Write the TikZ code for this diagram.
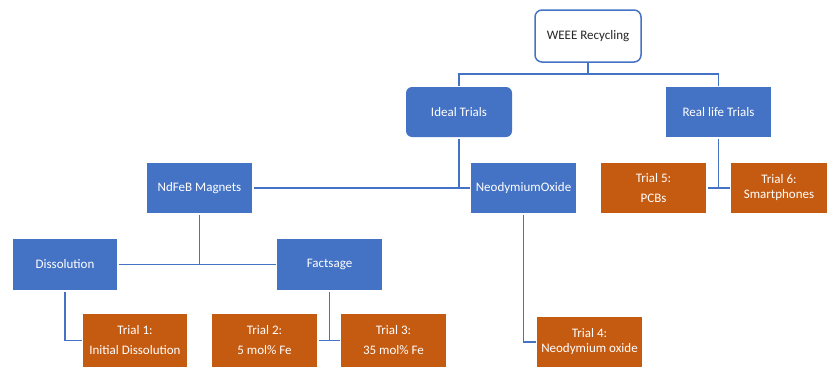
\documentclass[tikz,border=0pt]{standalone}
\usepackage{fontspec}
\setmainfont{Carlito}
\definecolor{oblue}{HTML}{4472C4}
\definecolor{oorange}{HTML}{C55A11}
\definecolor{dtext}{HTML}{262626}
\tikzset{
  box/.style={draw=none, text=white, align=center, inner sep=0pt, outer sep=1.5pt, font=\fontsize{13}{20}\selectfont},
  bluebox/.style={box, fill=oblue},
  orbox/.style={box, fill=oorange},
  tight/.style={font=\fontsize{13}{15}\selectfont},
  conn/.style={draw=oblue, line width=1.7pt},
}
\begin{document}
\begin{tikzpicture}[x=1pt,y=-1pt]
\useasboundingbox (0,0) rectangle (827,367);
% top
\node[draw=oblue, line width=1.5pt, fill=white, rounded corners=7pt, text=dtext, font=\fontsize{13}{15}\selectfont, minimum width=106pt, minimum height=52pt, inner sep=0pt, outer sep=1pt] (weee) at (588,36) {WEEE Recycling};
\node[bluebox, rounded corners=6pt, minimum width=106pt, minimum height=50pt] (ideal) at (459,112) {Ideal Trials};
\node[bluebox, minimum width=105pt, minimum height=50pt] (real) at (718.5,112) {Real life Trials};
% middle row
\node[bluebox, minimum width=105pt, minimum height=50pt] (ndfeb) at (199.5,188) {NdFeB Magnets};
\node[bluebox, minimum width=105pt, minimum height=50pt] (neo) at (523.5,188) {NeodymiumOxide};
\node[orbox, minimum width=105pt, minimum height=50pt] (t5) at (653.5,188) {Trial 5:\\PCBs};
\node[orbox, tight, minimum width=96pt, minimum height=50pt] (t6) at (779,188) {Trial 6:\\Smartphones};
% third row
\node[bluebox, minimum width=104pt, minimum height=51pt] (dis) at (65,264.5) {Dissolution};
\node[bluebox, minimum width=105pt, minimum height=51pt] (fact) at (329.5,264.5) {Factsage};
% bottom row
\node[orbox, minimum width=104pt, minimum height=53pt] (t1) at (135,340.5) {Trial 1:\\Initial Dissolution};
\node[orbox, minimum width=105pt, minimum height=53pt] (t2) at (264.5,340.5) {Trial 2:\\5 mol\% Fe};
\node[orbox, minimum width=105pt, minimum height=53pt] (t3) at (393.5,340.5) {Trial 3:\\35 mol\% Fe};
\node[orbox, tight, minimum width=105pt, minimum height=50pt] (t4) at (589.5,342) {Trial 4:\\Neodymium oxide};
% connectors
\coordinate (top) at (588,74);
\draw[conn] (weee.south) -- (top);
\draw[conn] (ideal.north) -- (ideal.north |- top) -- (real.north |- top) -- (real.north);
\draw[conn] (ideal.south) -- (ideal.south |- ndfeb.east);
\draw[conn] (ndfeb.east) -- (neo.west);
\draw[conn] (real.south) -- (real.south |- t5.east);
\draw[conn] (t5.east) -- (t6.west);
\draw[conn] (ndfeb.south) -- (ndfeb.south |- dis.east);
\draw[conn] (dis.east) -- (fact.west);
\draw[conn] (dis.south) |- (t1.west);
\draw[conn] (fact.south) -- (fact.south |- t2.east);
\draw[conn] (t2.east) -- (t3.west);
\draw[conn] (neo.south) |- (t4.west);
\end{tikzpicture}
\end{document}
